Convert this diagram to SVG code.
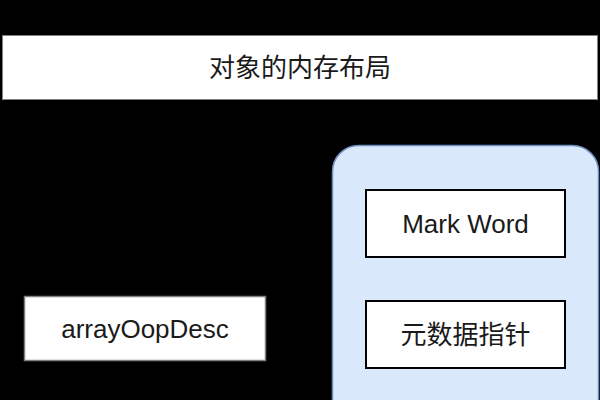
<svg xmlns="http://www.w3.org/2000/svg" width="600" height="400" viewBox="0 0 600 400">
<style>
.lbl{font-family:"Liberation Sans","Noto Sans CJK SC",sans-serif;font-size:26px;fill:#1a1a1a;text-anchor:middle;dominant-baseline:central}
.box{fill:#ffffff;stroke:#000000;stroke-width:2}
</style>
<rect x="0" y="0" width="600" height="400" fill="#000000"/>
<g id="title">
<rect x="2.5" y="35.5" width="595" height="64" fill="#ffffff" stroke="#808080" stroke-width="1"/>
<text class="lbl" x="300" y="68">对象的内存布局</text>
</g>
<g id="object">
<rect x="332.5" y="145.5" width="266" height="290" rx="26" ry="26" fill="#dae8fc" stroke="#6c8ebf" stroke-width="1.5"/>
</g>
<g id="markword">
<rect class="box" x="366" y="190" width="199" height="67"/>
<text class="lbl" x="465.5" y="224">Mark Word</text>
</g>
<g id="metapointer">
<rect class="box" x="366" y="301" width="199" height="67"/>
<text class="lbl" x="465.5" y="335">元数据指针</text>
</g>
<g id="arrayOopDesc">
<rect x="24.5" y="296.5" width="241" height="64" fill="#ffffff" stroke="#808080" stroke-width="1.5"/>
<text class="lbl" x="145" y="329">arrayOopDesc</text>
</g>
<g id="connectors"></g>
</svg>
